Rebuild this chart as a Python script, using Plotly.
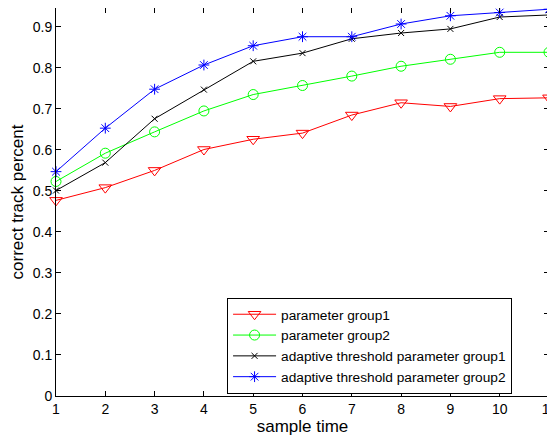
import plotly.graph_objects as go

sample_time = [1, 2, 3, 4, 5, 6, 7, 8, 9, 10, 11]
param_group1 = [0.477, 0.508, 0.550, 0.601, 0.626, 0.641, 0.685, 0.715, 0.706, 0.725, 0.727]
param_group2 = [0.523, 0.592, 0.644, 0.695, 0.735, 0.757, 0.780, 0.804, 0.821, 0.838, 0.838]
adaptive_group1 = [0.501, 0.569, 0.676, 0.747, 0.816, 0.836, 0.871, 0.885, 0.895, 0.924, 0.929]
adaptive_group2 = [0.547, 0.653, 0.748, 0.807, 0.854, 0.876, 0.876, 0.907, 0.927, 0.935, 0.943]

names = ["parameter group1", "parameter group2",
         "adaptive threshold parameter group1", "adaptive threshold parameter group2"]
series = [param_group1, param_group2, adaptive_group1, adaptive_group2]
colors = ["#ff0000", "#00ff00", "#000000", "#0000ff"]
symbols = ["triangle-down-open", "circle-open", "x-thin-open", "asterisk-open"]
sizes = [11, 10, 6, 9]

fig = go.Figure()
for name, ys, c, s, sz in zip(names, series, colors, symbols, sizes):
    fig.add_trace(go.Scatter(
        x=sample_time, y=ys, name=name, mode="lines+markers",
        line=dict(color=c, width=1),
        marker=dict(symbol=s, size=sz, color=c, line=dict(color=c, width=1)),
        cliponaxis=False,
    ))

family = "Liberation Sans, Arial, sans-serif"
fig.update_layout(
    width=555, height=428,
    margin=dict(l=48, r=14, t=0, b=40),
    paper_bgcolor="white", plot_bgcolor="white",
    font=dict(family=family, size=14, color="black"),
    showlegend=True,
    legend=dict(
        x=0.347, y=0.253, xanchor="left", yanchor="top",
        bgcolor="white", bordercolor="black", borderwidth=1,
        font=dict(family=family, size=13.7, color="black"),
        itemwidth=43, tracegroupgap=0,
    ),
    xaxis=dict(
        range=[1, 11], dtick=1, tick0=1,
        title=dict(text="sample time", standoff=2),
        showline=True, linecolor="black", linewidth=1, mirror="ticks",
        ticks="inside", ticklen=5, tickcolor="black",
        ticklabeloverflow="allow",
        showgrid=False, zeroline=False,
    ),
    yaxis=dict(
        range=[0, 0.946], dtick=0.1, tick0=0,
        title=dict(text="correct track percent", standoff=6),
        showline=True, linecolor="black", linewidth=1, mirror="ticks",
        ticks="inside", ticklen=5, tickcolor="black",
        showgrid=False, zeroline=False,
    ),
)

fig.write_html("out.html", config={"displayModeBar": False})
